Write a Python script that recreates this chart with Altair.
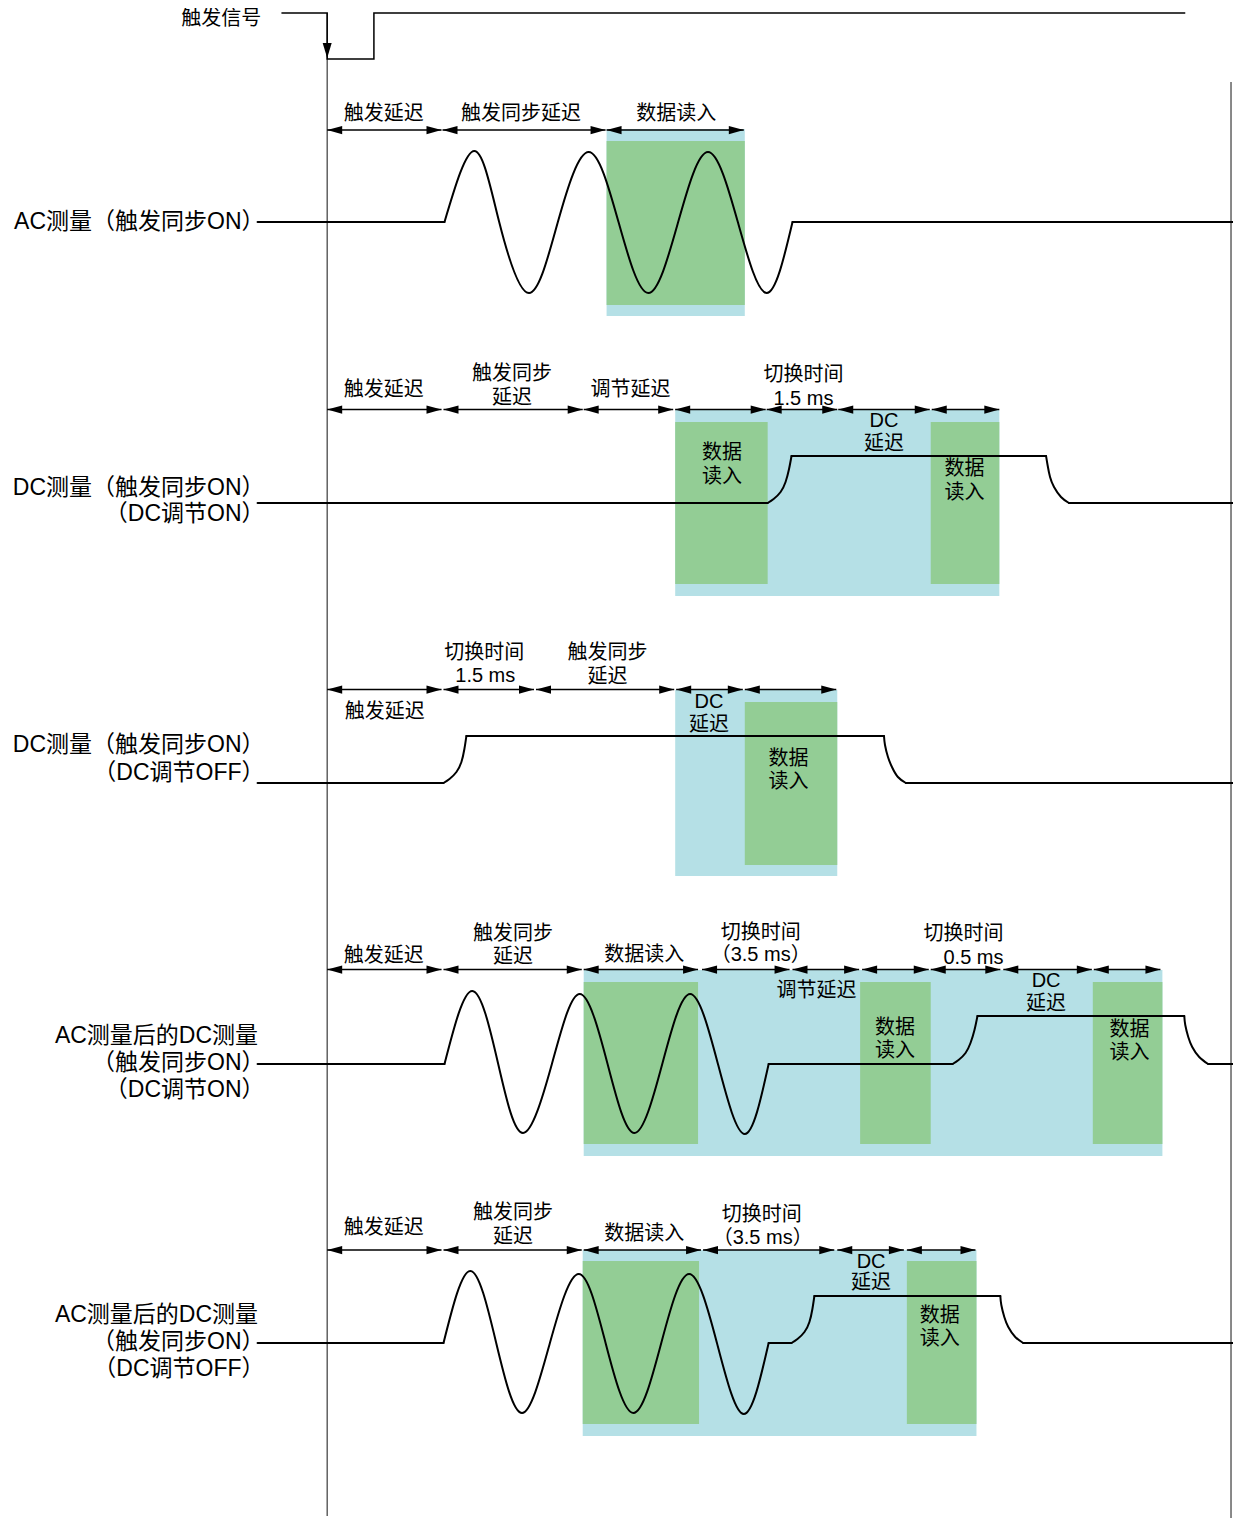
import altair as alt
import pandas as pd

FONT = "Liberation Sans, Noto Sans CJK SC, sans-serif"
BLUE = "#b5e0e6"
GREEN = "#93cd95"

# ---------------- trigger signal ----------------
trig_label = ["触发信号"]
trig_label_t = [222.5]
trig_label_v = [19]
trig_t = [283, 329, 329, 376, 376, 1192]
trig_v = [13, 13, 59, 59, 13, 13]

# ---------------- vertical reference lines ----------------
vline_t = [329, 1238]
vline_top = [13, 82]
vline_bot = [1516, 1526]

# ---------------- row labels (left side) ----------------
label_text = ["AC测量（触发同步ON）",
              "DC测量（触发同步ON）", "（DC调节ON）",
              "DC测量（触发同步ON）", "（DC调节OFF）",
              "AC测量后的DC测量", "（触发同步ON）", "（DC调节ON）",
              "AC测量后的DC测量", "（触发同步ON）", "（DC调节OFF）"]
label_t = [266, 266, 266, 266, 266, 259.5, 266, 266, 259.5, 266, 266]
label_v = [222, 488, 514, 745, 773, 1036, 1063, 1090, 1315, 1342, 1369]

# ---------------- flat signal segments ----------------
flat_t0 = [259, 797, 259, 796, 1075, 259, 469, 911, 259, 773, 983, 1215, 259, 773, 819, 1029]
flat_t1 = [447, 1240, 772, 1052, 1240, 446, 889, 1240, 447, 958, 1191, 1240, 446, 796, 1006, 1240]
flat_v = [222, 222, 503, 456, 503, 783, 736, 783, 1064, 1064, 1016, 1064, 1343, 1343, 1296, 1343]

# ---------------- curved signal segments ----------------
wave1_t = [447, 477, 502, 532, 561, 592, 622, 652, 682, 712, 742, 771, 797]
wave1_v = [222, 151, 222, 293, 222, 152, 222, 293, 222, 152, 222, 293, 222]

rise2_t = [772, 778, 785, 790, 793.5, 796]
rise2_v = [503, 499, 492, 482, 469, 456]
fall2_t = [1052, 1053.5, 1056, 1060, 1067, 1075]
fall2_v = [456, 465, 477, 487, 497, 503]

rise3_t = [446, 452, 459, 464, 467, 469]
rise3_v = [783, 779, 772, 762, 749, 736]
fall3_t = [889, 890, 893, 897, 903, 911]
fall3_v = [736, 745, 757, 767, 777, 783]

wave4_t = [447, 475, 501, 526, 555, 583, 611, 638, 666, 694, 722, 749, 773]
wave4_v = [1064, 991, 1064, 1133, 1064, 994, 1064, 1133, 1064, 994, 1064, 1134, 1064]
rise4_t = [958, 964, 971, 976, 980, 983]
rise4_v = [1064, 1060, 1053, 1043, 1030, 1016]
fall4_t = [1191, 1192, 1195, 1199, 1206, 1215]
fall4_v = [1016, 1025, 1037, 1047, 1057, 1064]

wave5_t = [446, 473, 499, 525, 553, 582, 609, 637, 665, 693, 721, 748, 773]
wave5_v = [1343, 1271, 1343, 1413, 1343, 1274, 1343, 1413, 1343, 1274, 1343, 1414, 1343]
rise5_t = [796, 802, 809, 814, 817, 819]
rise5_v = [1343, 1339, 1332, 1322, 1309, 1296]
fall5_t = [1006, 1007, 1010, 1014, 1021, 1029]
fall5_v = [1296, 1305, 1317, 1327, 1337, 1343]

# ---------------- timing arrows ----------------
arrow_t0 = [329, 445, 610,
            329, 446, 587, 679, 771, 843, 937,
            329, 446, 539, 680, 749,
            329, 446, 587, 706, 797, 867, 936, 1009, 1100,
            329, 446, 587, 707, 842, 912]
arrow_t1 = [444, 609, 748,
            444, 586, 677, 770, 842, 935, 1005,
            444, 537, 678, 747, 841,
            444, 585, 702, 794, 864, 934, 1006, 1098, 1167,
            444, 585, 705, 839, 909, 981]
arrow_v = ([130] * 3 + [409.5] * 7 + [689.5] * 5 + [969.5] * 9 + [1250] * 6)

# ---------------- shaded phases ----------------
blue_t0 = [610, 679, 679, 587, 586]
blue_t1 = [749, 1005, 842, 1169, 982]
blue_v0 = [129, 410, 690, 970, 1250]
blue_v1 = [316, 596, 876, 1156, 1436]

green_t0 = [610, 679, 936, 749, 587, 865, 1099, 586, 912]
green_t1 = [749, 772, 1005, 842, 702, 936, 1169, 703, 982]
green_v0 = [141, 422, 422, 702, 982, 982, 982, 1261, 1261]
green_v1 = [305, 584, 584, 865, 1144, 1144, 1144, 1424, 1424]

# ---------------- annotations ----------------
ann_text = ["触发延迟", "触发同步延迟", "数据读入",
            "触发延迟", "触发同步", "延迟", "调节延迟", "切换时间", "1.5 ms", "DC", "延迟",
            "数据", "读入", "数据", "读入",
            "切换时间", "1.5 ms", "触发同步", "延迟", "触发延迟", "DC", "延迟", "数据", "读入",
            "触发延迟", "触发同步", "延迟", "数据读入", "切换时间", "（3.5 ms）", "调节延迟",
            "数据", "读入", "切换时间", "0.5 ms", "DC", "延迟", "数据", "读入",
            "触发延迟", "触发同步", "延迟", "数据读入", "切换时间", "（3.5 ms）", "DC", "延迟",
            "数据", "读入"]
ann_t = [386, 524, 680,
         386, 515, 515, 634, 808, 808, 889, 889,
         726, 726, 970, 970,
         487, 488, 611, 611, 387, 713, 713, 793, 793,
         386, 516, 516, 648, 765, 765, 821,
         900, 900, 969, 979, 1052, 1052, 1136, 1136,
         386, 516, 516, 648, 766, 767, 876, 876,
         945, 945]
ann_v = [114, 114, 114,
         390, 374, 398, 390, 375, 398.5, 420.5, 443.5,
         453, 477, 469, 493,
         653, 676, 653, 677, 712, 702, 725, 759, 782,
         956, 934, 957, 955, 933, 955, 991,
         1028, 1051, 934, 957.5, 981, 1004, 1030, 1053,
         1228, 1213, 1237, 1234, 1215, 1238, 1262, 1283,
         1316, 1339]

# ================= tables =================
curves = {"wave1": (wave1_t, wave1_v), "rise2": (rise2_t, rise2_v), "fall2": (fall2_t, fall2_v),
          "rise3": (rise3_t, rise3_v), "fall3": (fall3_t, fall3_v),
          "wave4": (wave4_t, wave4_v), "rise4": (rise4_t, rise4_v), "fall4": (fall4_t, fall4_v),
          "wave5": (wave5_t, wave5_v), "rise5": (rise5_t, rise5_v), "fall5": (fall5_t, fall5_v)}
curve_rows = []
for name, (ts, vs) in curves.items():
    for i, (t, v) in enumerate(zip(ts, vs)):
        curve_rows.append({"seg": name, "i": i, "t": t, "v": v})
curve_df = pd.DataFrame(curve_rows)

trig_df = pd.DataFrame({"i": list(range(len(trig_t))), "t": trig_t, "v": trig_v})
trig_label_df = pd.DataFrame({"text": trig_label, "t": trig_label_t, "v": trig_label_v})
vline_df = pd.DataFrame({"t": vline_t, "v0": vline_top, "v1": vline_bot})
flat_df = pd.DataFrame({"t0": flat_t0, "t1": flat_t1, "v": flat_v})
arrow_df = pd.DataFrame({"t0": arrow_t0, "t1": arrow_t1, "v": arrow_v})
blue_df = pd.DataFrame({"t0": blue_t0, "t1": blue_t1, "v0": blue_v0, "v1": blue_v1})
green_df = pd.DataFrame({"t0": green_t0, "t1": green_t1, "v0": green_v0, "v1": green_v1})
ann_df = pd.DataFrame({"text": ann_text, "t": ann_t, "v": ann_v})
label_df = pd.DataFrame({"text": label_text, "t": label_t, "v": label_v})
down_df = pd.DataFrame({"t": [329], "v": [58]})

xs = alt.Scale(domain=[8, 1240], nice=False, zero=False)
ys = alt.Scale(domain=[8, 1518], reverse=True, nice=False, zero=False)


def X(f):
    return alt.X(f, type="quantitative", scale=xs, axis=None)


def Y(f):
    return alt.Y(f, type="quantitative", scale=ys, axis=None)


blue = alt.Chart(blue_df).mark_rect(color=BLUE).encode(x=X("t0"), x2="t1", y=Y("v0"), y2="v1")
green = alt.Chart(green_df).mark_rect(color=GREEN).encode(x=X("t0"), x2="t1", y=Y("v0"), y2="v1")

vlines = alt.Chart(vline_df).mark_rule(color="#3a3a3a", strokeWidth=1.2).encode(
    x=X("t"), y=Y("v0"), y2="v1")

flats = alt.Chart(flat_df).mark_rule(color="black", strokeWidth=2, strokeCap="round").encode(
    x=X("t0"), x2="t1", y=Y("v"))

curve = alt.Chart(curve_df).mark_line(color="black", strokeWidth=2, interpolate="natural",
                                      strokeCap="round").encode(
    x=X("t"), y=Y("v"), detail="seg:N", order="i:Q")

trig = alt.Chart(trig_df).mark_line(color="black", strokeWidth=1.5).encode(
    x=X("t"), y=Y("v"), order="i:Q")

arrows = alt.Chart(arrow_df).mark_rule(color="black", strokeWidth=1.3).encode(
    x=X("t0"), x2="t1", y=Y("v"))

head_l = alt.Chart(arrow_df).mark_point(shape="M0,0L2,-0.55L2,0.55Z", size=225, filled=True,
                                        color="black", opacity=1, strokeWidth=0).encode(
    x=X("t0"), y=Y("v"))
head_r = alt.Chart(arrow_df).mark_point(shape="M0,0L-2,-0.55L-2,0.55Z", size=225, filled=True,
                                        color="black", opacity=1, strokeWidth=0).encode(
    x=X("t1"), y=Y("v"))
head_d = alt.Chart(down_df).mark_point(shape="M0,0L-0.6,-2L0.6,-2Z", size=225, filled=True,
                                       color="black", opacity=1, strokeWidth=0).encode(
    x=X("t"), y=Y("v"))

ann = alt.Chart(ann_df).mark_text(font=FONT, fontSize=20, color="black", align="center",
                                  baseline="middle").encode(
    x=X("t"), y=Y("v"), text="text:N")

trig_text = alt.Chart(trig_label_df).mark_text(font=FONT, fontSize=20, color="black",
                                               align="center", baseline="middle").encode(
    x=X("t"), y=Y("v"), text="text:N")

labels = alt.Chart(label_df).mark_text(font=FONT, fontSize=23, color="black", align="right",
                                       baseline="middle").encode(
    x=X("t"), y=Y("v"), text="text:N")

chart = alt.layer(blue, green, vlines, flats, curve, trig, arrows, head_l, head_r, head_d,
                  ann, trig_text, labels).properties(
    width=1225, height=1510, padding=0,
    autosize=alt.AutoSizeParams(type="none"),
    background="white",
).configure_view(stroke=None)

chart.save("out.html", embed_options={"renderer": "svg", "actions": False})
